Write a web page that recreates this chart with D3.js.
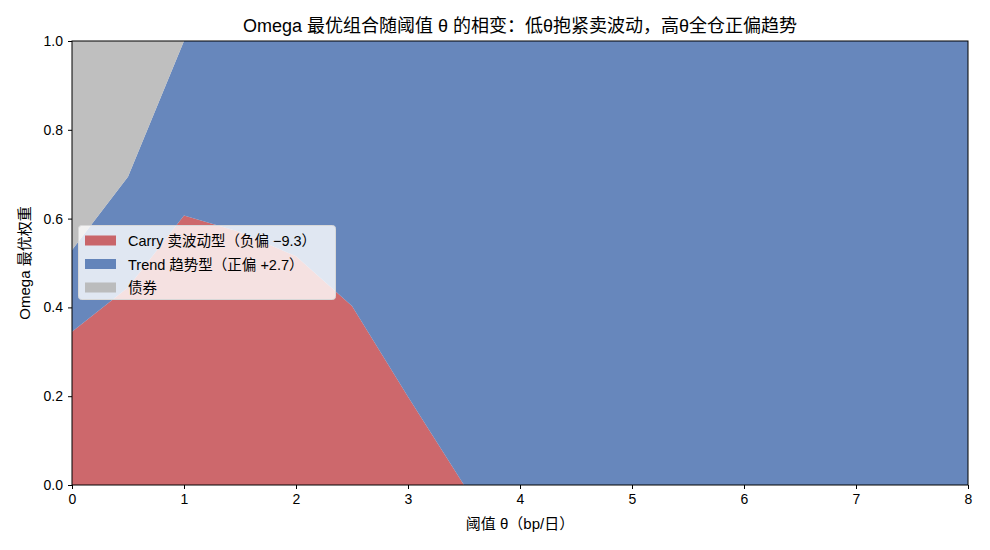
<!DOCTYPE html>
<html><head><meta charset="utf-8">
<script src="https://cdn.jsdelivr.net/npm/d3@7/dist/d3.min.js"></script>
<style>body{margin:0;background:#fff}svg{font-family:"Liberation Sans","Noto Sans CJK SC",sans-serif}</style>
</head><body><svg id="c" width="990" height="550"></svg>
<script>
const theta = [0,0.5,1,1.5,2,2.5,3,3.5,4,4.5,5,5.5,6,6.5,7,7.5,8];
const carry = [0.345,0.445,0.607,0.570,0.515,0.403,0.199,0,0,0,0,0,0,0,0,0,0];
const trend = [0.184,0.249,0.393,0.430,0.485,0.597,0.801,1,1,1,1,1,1,1,1,1,1];
const bond  = [0.471,0.306,0,0,0,0,0,0,0,0,0,0,0,0,0,0,0];
const seriesNames = ["Carry 卖波动型（负偏 −9.3）","Trend 趋势型（正偏 +2.7）","债券"];
const colors = ["#C44E52","#4C72B0","#B4B4B4"];
const xTicks = [0,1,2,3,4,5,6,7,8];
const yTicks = [0,0.2,0.4,0.6,0.8,1.0];
const title = "Omega 最优组合随阈值 θ 的相变：低θ抱紧卖波动，高θ全仓正偏趋势";
const xLabel = "阈值 θ（bp/日）";
const yLabel = "Omega 最优权重";

const svg = d3.select("#c");
const m = {l:72,r:22,t:41,b:65};
const W = 990, H = 550;
const x = d3.scaleLinear().domain([0,8]).range([m.l, W-m.r]);
const y = d3.scaleLinear().domain([0,1]).range([H-m.b, m.t]);

const rows = theta.map((t,i)=>({t, s0:carry[i], s1:trend[i], s2:bond[i]}));
const stack = d3.stack().keys(["s0","s1","s2"])(rows);
const area = d3.area().x(d=>x(d.data.t)).y0(d=>y(d[0])).y1(d=>y(d[1]));
svg.append("g").selectAll("path").data(stack).join("path")
  .attr("d",area).attr("fill",(d,i)=>colors[i]).attr("fill-opacity",0.85);

// axes
const xa = svg.append("g").attr("transform",`translate(0,${H-m.b})`)
  .call(d3.axisBottom(x).tickValues(xTicks).tickFormat(d3.format("d")).tickSizeOuter(0).tickSize(4).tickPadding(5));
const ya = svg.append("g").attr("transform",`translate(${m.l},0)`)
  .call(d3.axisLeft(y).tickValues(yTicks).tickFormat(d3.format(".1f")).tickSizeOuter(0).tickSize(4).tickPadding(5));
[xa,ya].forEach(a=>{a.selectAll("text").attr("font-size",14).attr("fill","#000");a.select(".domain").remove();a.selectAll("line").attr("stroke","#000");});
svg.append("rect").attr("x",m.l).attr("y",m.t).attr("width",W-m.l-m.r).attr("height",H-m.t-m.b)
  .attr("fill","none").attr("stroke","#000").attr("stroke-width",1);

svg.append("text").attr("x",(m.l+W-m.r)/2).attr("y",32).attr("text-anchor","middle")
  .attr("font-size",18).text(title);
svg.append("text").attr("x",(m.l+W-m.r)/2).attr("y",529).attr("text-anchor","middle")
  .attr("font-size",15).text(xLabel);
svg.append("text").attr("transform",`translate(30,${(m.t+H-m.b)/2}) rotate(-90)`).attr("text-anchor","middle")
  .attr("font-size",15).text(yLabel);

// legend
const lg = svg.append("g").attr("transform","translate(78.5,225.5)");
lg.append("rect").attr("width",257).attr("height",74).attr("rx",3)
  .attr("fill","#fff").attr("fill-opacity",0.8).attr("stroke","#d8d8d8");
seriesNames.forEach((n,i)=>{
  const g = lg.append("g").attr("transform",`translate(0,${15+i*23.5})`);
  g.append("rect").attr("x",6.5).attr("y",-5).attr("width",31).attr("height",10)
    .attr("fill",colors[i]).attr("fill-opacity",0.85);
  g.append("text").attr("x",49.5).attr("y",5.5).attr("font-size",14.5).text(n);
});
</script></body></html>
